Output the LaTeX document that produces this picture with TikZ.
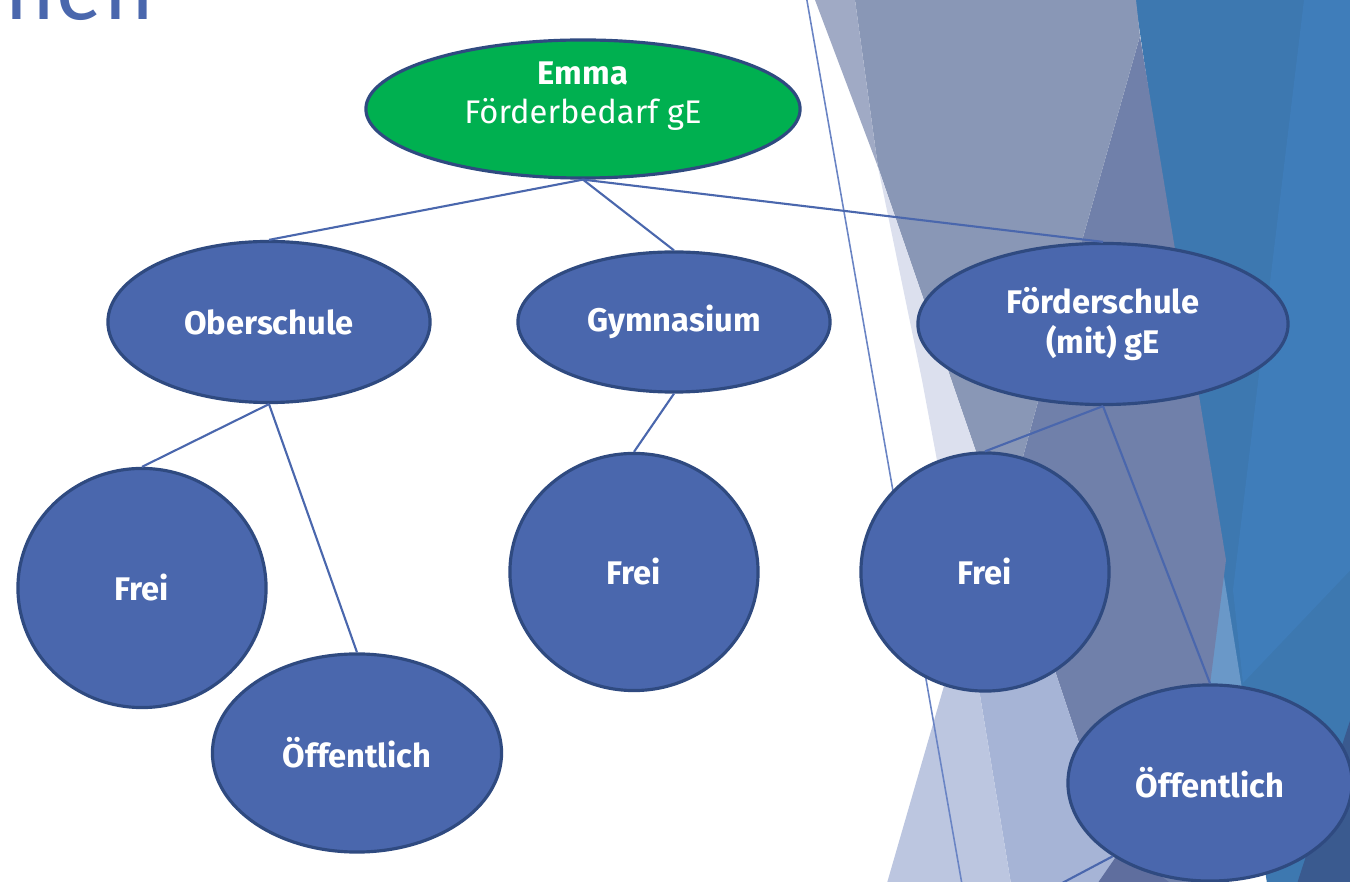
\documentclass[tikz,border=0pt]{standalone}
\usepackage{fontspec}
\setmainfont{Fira Sans}
\usepackage{xcolor}
\usetikzlibrary{shapes.geometric}
\definecolor{nodeblue}{HTML}{4A67AD}
\definecolor{nodeline}{HTML}{2F4A80}
\definecolor{emmagreen}{HTML}{00B050}
\definecolor{linkblue}{HTML}{4A67AD}
\definecolor{thinblue}{HTML}{6A84C4}
\definecolor{facetpale}{HTML}{DCE0EE}
\definecolor{facetstrip}{HTML}{A0AAC5}
\definecolor{facetgrey}{HTML}{8997B6}
\definecolor{facetslate}{HTML}{7080AA}
\definecolor{facetlav}{HTML}{BCC6E0}
\definecolor{facetmist}{HTML}{A6B4D6}
\definecolor{facetblue}{HTML}{3D78B0}
\definecolor{facetbluelight}{HTML}{3F7DBA}
\definecolor{facetsky}{HTML}{6A98C8}
\definecolor{facetnavy}{HTML}{3A5A8F}
\definecolor{facetdusk}{HTML}{5F6E9E}

\tikzset{
  school/.style={ellipse, draw=nodeline, fill=nodeblue, line width=0.9pt, text=white,
    font=\fontsize{9.3}{11.6}\selectfont\bfseries, align=center, inner sep=0pt},
  root/.style={school, fill=emmagreen},
  link/.style={draw=linkblue, line width=0.6pt},
  thinlink/.style={draw=thinblue, line width=0.45pt},
  title/.style={text=nodeblue, font=\fontsize{25}{30}\selectfont, inner sep=0pt}
}

\begin{document}
\begin{tikzpicture}[x=0.01cm, y=-0.01cm]
\useasboundingbox (0,0) rectangle (1350,882);

\fill[facetblue] (1135,0) -- (1360,0) -- (1360,890) -- (1268,890) -- cycle;
\fill[facetbluelight] (1304,0) -- (1360,0) -- (1360,560) -- (1243,683) -- (1233,590) -- cycle;
\fill[facetnavy] (1360,690) -- (1360,890) -- (1295,890) -- cycle;
\fill[facetsky] (1220,552) -- (1247,720) -- (1200,700) -- cycle;
\fill[facetslate] (1140,36) -- (1226,560) -- (1208,700) -- (1215,890) -- (1128,890)
  -- (1047,647) -- (1003,530) -- (1078,255) -- cycle;
\fill[facetgrey] (855,0) -- (1136,0) -- (1140,36) -- (1078,255) -- (1003,530) -- (878,167) -- cycle;
\fill[facetpale] (878,167) -- (1003,530) -- (950,530) -- (922,380) -- cycle;
\fill[facetstrip] (815,0) -- (855,0) -- (878,167) -- cycle;
\fill[facetmist] (1003,530) -- (1047,647) -- (1128,890) -- (1012,890) -- (966,610) -- cycle;
\fill[facetlav] (966,610) -- (1012,890) -- (885,890) -- cycle;
\fill[facetdusk] (1093,890) -- (1122,848) -- (1180,890) -- cycle;

\node[title, anchor=base east] (ttl) at (156,20) {hen};

\coordinate (pagetop) at (806,-5);
\coordinate (pagebottom) at (963,890);
\draw[thinlink] (pagetop) -- (pagebottom);

\node[root, minimum width=4.34cm, minimum height=1.38cm] (emma) at (583,109) {};
\node[text=white, align=center, font=\fontsize{9.3}{11.2}\selectfont] (emmatxt) at (583,96)
  {\textbf{Emma}\\Förderbedarf gE};
\node[school, minimum width=3.22cm, minimum height=1.61cm] (ober) at (269,322) {Oberschule};
\node[school, minimum width=3.12cm, minimum height=1.40cm] (gym) at (674,322) {Gymnasium};
\node[school, minimum width=3.70cm, minimum height=1.61cm] (foerder) at (1103,324) {Förderschule\\(mit) gE};
\node[school, minimum width=2.48cm, minimum height=2.39cm] (frei1) at (142,588) {Frei};
\node[school, minimum width=2.89cm, minimum height=1.98cm] (oeff1) at (357,753) {Öffentlich};
\node[school, minimum width=2.48cm, minimum height=2.37cm] (frei2) at (634,572) {Frei};
\node[school, minimum width=2.48cm, minimum height=2.38cm] (frei3) at (985,572) {Frei};
\node[school, minimum width=2.84cm, minimum height=1.96cm] (oeff2) at (1210,783) {Öffentlich};

\coordinate (offpage) at (1030,900);
\draw[link] (emma.south) -- (ober.north);
\draw[link] (emma.south) -- (gym.north);
\draw[link] (emma.south) -- (foerder.north);
\draw[link] (ober.south) -- (frei1.north);
\draw[link] (ober.south) -- (oeff1.north);
\draw[link] (gym.south) -- (frei2.north);
\draw[link] (foerder.south) -- (frei3.north);
\draw[link] (foerder.south) -- (oeff2.north);
\draw[link] (oeff2.217) -- (offpage);
\end{tikzpicture}
\end{document}
